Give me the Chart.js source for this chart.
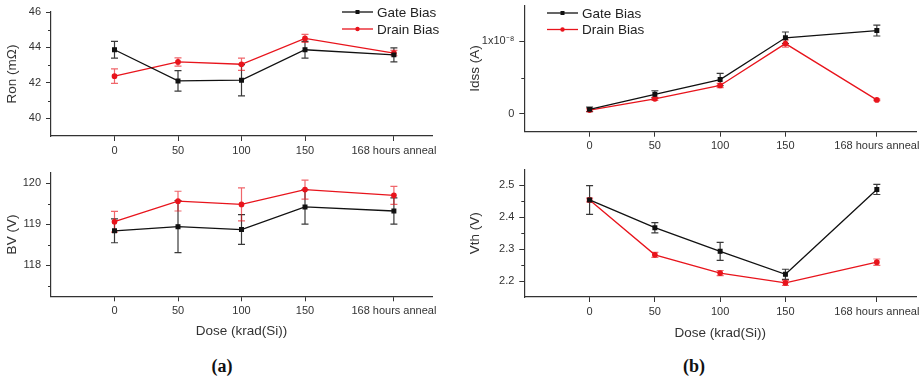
<!DOCTYPE html>
<html>
<head>
<meta charset="utf-8">
<script src="https://cdn.jsdelivr.net/npm/chart.js@4.4.1/dist/chart.umd.min.js"></script>
<style>
  body { margin: 0; background: #fff; width: 923px; height: 381px; overflow: hidden; position: relative; }
  canvas { position: absolute; }
  .tag { position: absolute; font-family: "Liberation Serif", serif; font-weight: bold; font-size: 18px; color: #111; transform: translate(-50%, -50%); }
</style>
</head>
<body>
<canvas id="ron" width="445" height="160" style="left:0;top:0"></canvas>
<canvas id="bv" width="445" height="185" style="left:0;top:160px"></canvas>
<canvas id="idss" width="463" height="160" style="left:460px;top:0"></canvas>
<canvas id="vth" width="463" height="185" style="left:460px;top:160px"></canvas>
<div class="tag" style="left:222px;top:366px">(a)</div>
<div class="tag" style="left:694px;top:366px">(b)</div>
<script>
// dose axis: the anneal point sits at 220 on the dose scale
const doses = [0, 50, 100, 150, 220];
const doseLabels = ['0', '50', '100', '150', '168 hours anneal'];
const seriesNames = ['Gate Bias', 'Drain Bias'];

const ronGate = [43.87, 42.11, 42.15, 43.87, 43.58];
const ronGateErr = [0.47, 0.58, 0.88, 0.47, 0.40];
const ronDrain = [42.38, 43.18, 43.05, 44.51, 43.68];
const ronDrainErr = [0.41, 0.23, 0.35, 0.23, 0.15];

const bvGate = [118.84, 118.94, 118.87, 119.42, 119.32];
const bvGateErr = [0.29, 0.63, 0.36, 0.42, 0.32];
const bvDrain = [119.06, 119.56, 119.48, 119.84, 119.70];
const bvDrainErr = [0.25, 0.24, 0.40, 0.23, 0.22];

const idssGate = [0.59e-9, 2.67e-9, 4.72e-9, 10.5e-9, 11.5e-9];
const idssGateErr = [0.3e-9, 0.5e-9, 0.85e-9, 0.8e-9, 0.75e-9];
const idssDrain = [0.5e-9, 2.05e-9, 3.9e-9, 9.7e-9, 1.9e-9];
const idssDrainErr = [0.2e-9, 0.2e-9, 0.3e-9, 0.5e-9, 0.1e-9];

const vthGate = [2.454, 2.367, 2.293, 2.221, 2.487];
const vthGateErr = [0.045, 0.016, 0.028, 0.016, 0.016];
const vthDrain = [2.454, 2.282, 2.225, 2.194, 2.259];
const vthDrainErr = [0.006, 0.008, 0.008, 0.008, 0.010];

const ronTicks = [40, 42, 44, 46], ronMinor = [41, 43, 45];
const bvTicks = [118, 119, 120], bvMinor = [117.5, 118.5, 119.5];
const idssTicks = [0, 1e-8], idssMinor = [0.5e-8];
const vthTicks = [2.2, 2.3, 2.4, 2.5], vthMinor = [2.25, 2.35, 2.45];

const BLACK = '#111111';
const RED = '#e8141c';
const AXIS = '#333333';
const FONT = '"Liberation Sans", Arial, sans-serif';

// error bars drawn from the y scale
const errorBars = {
  id: 'errorBars',
  beforeDatasetsDraw(chart) {
    const ctx = chart.ctx;
    const y = chart.scales.y;
    chart.data.datasets.forEach((ds, i) => {
      const meta = chart.getDatasetMeta(i);
      ctx.save();
      ctx.strokeStyle = ds.errColor;
      ctx.lineWidth = 1.2;
      meta.data.forEach((pt, j) => {
        const v = ds.data[j].y, e = ds.errors[j];
        const top = y.getPixelForValue(v + e), bot = y.getPixelForValue(v - e);
        ctx.beginPath();
        ctx.moveTo(pt.x, top); ctx.lineTo(pt.x, bot);
        ctx.moveTo(pt.x - 3.5, top); ctx.lineTo(pt.x + 3.5, top);
        ctx.moveTo(pt.x - 3.5, bot); ctx.lineTo(pt.x + 3.5, bot);
        ctx.stroke();
      });
      ctx.restore();
    });
  }
};

// short minor ticks on the y axis
const minorTicks = {
  id: 'minorTicks',
  afterDraw(chart, args, opts) {
    const ctx = chart.ctx;
    const y = chart.scales.y;
    ctx.save();
    ctx.strokeStyle = AXIS;
    ctx.lineWidth = 1;
    (opts.values || []).forEach(v => {
      const py = Math.round(y.getPixelForValue(v)) + 0.5;
      ctx.beginPath();
      ctx.moveTo(y.right, py); ctx.lineTo(y.right - 3, py);
      ctx.stroke();
    });
    ctx.restore();
  }
};

// legend with line + marker sample
const lineLegend = {
  id: 'lineLegend',
  afterDraw(chart, args, opts) {
    if (!opts.show) return;
    const ctx = chart.ctx;
    ctx.save();
    chart.data.datasets.forEach((ds, i) => {
      const yy = opts.y + i * opts.gap;
      ctx.strokeStyle = ds.borderColor;
      ctx.lineWidth = 1.3;
      ctx.beginPath();
      ctx.moveTo(opts.x, yy); ctx.lineTo(opts.x + 31, yy);
      ctx.stroke();
      ctx.fillStyle = ds.borderColor;
      if (ds.pointStyle === 'rect') ctx.fillRect(opts.x + 13.5, yy - 2, 4, 4);
      else { ctx.beginPath(); ctx.arc(opts.x + 15.5, yy, 2.2, 0, Math.PI * 2); ctx.fill(); }
      ctx.fillStyle = '#222';
      ctx.font = '13.5px ' + FONT;
      ctx.textBaseline = 'middle';
      ctx.fillText(ds.label, opts.x + 35, yy + 1);
    });
    ctx.restore();
  }
};

function pts(arr) {
  return doses.map((d, i) => ({ x: d, y: arr[i] }));
}

function makePanel(id, p) {
  const datasets = [
    { label: seriesNames[0], data: pts(p.gate), errors: p.gateErr, borderColor: BLACK, backgroundColor: BLACK,
      errColor: '#3a3a3a', pointStyle: 'rect', pointRadius: 2.6, borderWidth: 1.3 },
    { label: seriesNames[1], data: pts(p.drain), errors: p.drainErr, borderColor: RED, backgroundColor: RED,
      errColor: 'rgba(232,20,28,0.65)', pointStyle: 'circle', pointRadius: 2.2, borderWidth: 1.3 }
  ];
  return new Chart(document.getElementById(id), {
    type: 'line',
    data: { datasets },
    plugins: [errorBars, minorTicks, lineLegend],
    options: {
      responsive: false,
      animation: false,
      layout: { padding: p.pad },
      plugins: {
        legend: { display: false },
        tooltip: { enabled: false },
        minorTicks: { values: p.minor },
        lineLegend: p.legend || { show: false }
      },
      scales: {
        x: {
          type: 'linear', min: -50, max: 250,
          afterBuildTicks: s => { s.ticks = doses.map(v => ({ value: v })); },
          afterFit: s => { s.height = p.xh; s.paddingLeft = 0; s.paddingRight = 0; },
          ticks: {
            font: { family: FONT, size: 11 }, color: '#333', padding: 3, maxRotation: 0,
            callback: v => doseLabels[doses.indexOf(v)]
          },
          grid: { drawOnChartArea: false, tickLength: 5, tickColor: AXIS },
          border: { color: AXIS, width: 1.2 },
          title: p.xTitle ? { display: true, text: 'Dose (krad(Si))', color: '#333',
            font: { family: FONT, size: 13.5 }, padding: { top: 0, bottom: p.xTitlePad } } : { display: false }
        },
        y: {
          min: p.min, max: p.max,
          afterBuildTicks: s => { s.ticks = p.ticks.map(v => ({ value: v })); },
          afterFit: s => { s.width = p.yw; s.paddingTop = 0; s.paddingBottom = 0; },
          ticks: {
            font: { family: FONT, size: 11 }, color: '#333', padding: 5,
            callback: p.fmt || (v => String(v))
          },
          grid: { drawOnChartArea: false, tickLength: 5, tickColor: AXIS },
          border: { color: AXIS, width: 1.2 },
          title: { display: true, text: p.yTitle, color: '#333',
            font: { family: FONT, size: 13.5 }, padding: { top: p.yTitlePad, bottom: 0 } }
        }
      }
    }
  });
}

makePanel('ron', {
  gate: ronGate, gateErr: ronGateErr, drain: ronDrain, drainErr: ronDrainErr,
  min: 39, max: 46, ticks: ronTicks, minor: ronMinor, yTitle: 'Ron (mΩ)',
  pad: { top: 12, right: 13, left: 0, bottom: 0 }, yw: 51, xh: 24, yTitlePad: 4,
  legend: { show: true, x: 342, y: 12, gap: 17 }
});

makePanel('bv', {
  gate: bvGate, gateErr: bvGateErr, drain: bvDrain, drainErr: bvDrainErr,
  min: 117.25, max: 120.25, ticks: bvTicks, minor: bvMinor, yTitle: 'BV (V)',
  pad: { top: 12.7, right: 13, left: 0, bottom: 0 }, yw: 51, xh: 48.7, yTitlePad: 4,
  xTitle: true, xTitlePad: 6
});

makePanel('idss', {
  gate: idssGate, gateErr: idssGateErr, drain: idssDrain, drainErr: idssDrainErr,
  min: -0.25e-8, max: 1.5e-8, ticks: idssTicks, minor: idssMinor, yTitle: 'Idss (A)',
  fmt: v => (v === 0 ? '0' : '1x10\u207B\u2078'),
  pad: { top: 3, right: 7, left: 0, bottom: 0 }, yw: 64.3, xh: 28.3, yTitlePad: 7,
  legend: { show: true, x: 87, y: 13, gap: 16.5 }
});

makePanel('vth', {
  gate: vthGate, gateErr: vthGateErr, drain: vthDrain, drainErr: vthDrainErr,
  min: 2.15, max: 2.55, ticks: vthTicks, minor: vthMinor, yTitle: 'Vth (V)',
  fmt: v => v.toFixed(1),
  pad: { top: 9.3, right: 7, left: 0, bottom: 0 }, yw: 64.3, xh: 48, yTitlePad: 7,
  xTitle: true, xTitlePad: 4
});
</script>
</body>
</html>
